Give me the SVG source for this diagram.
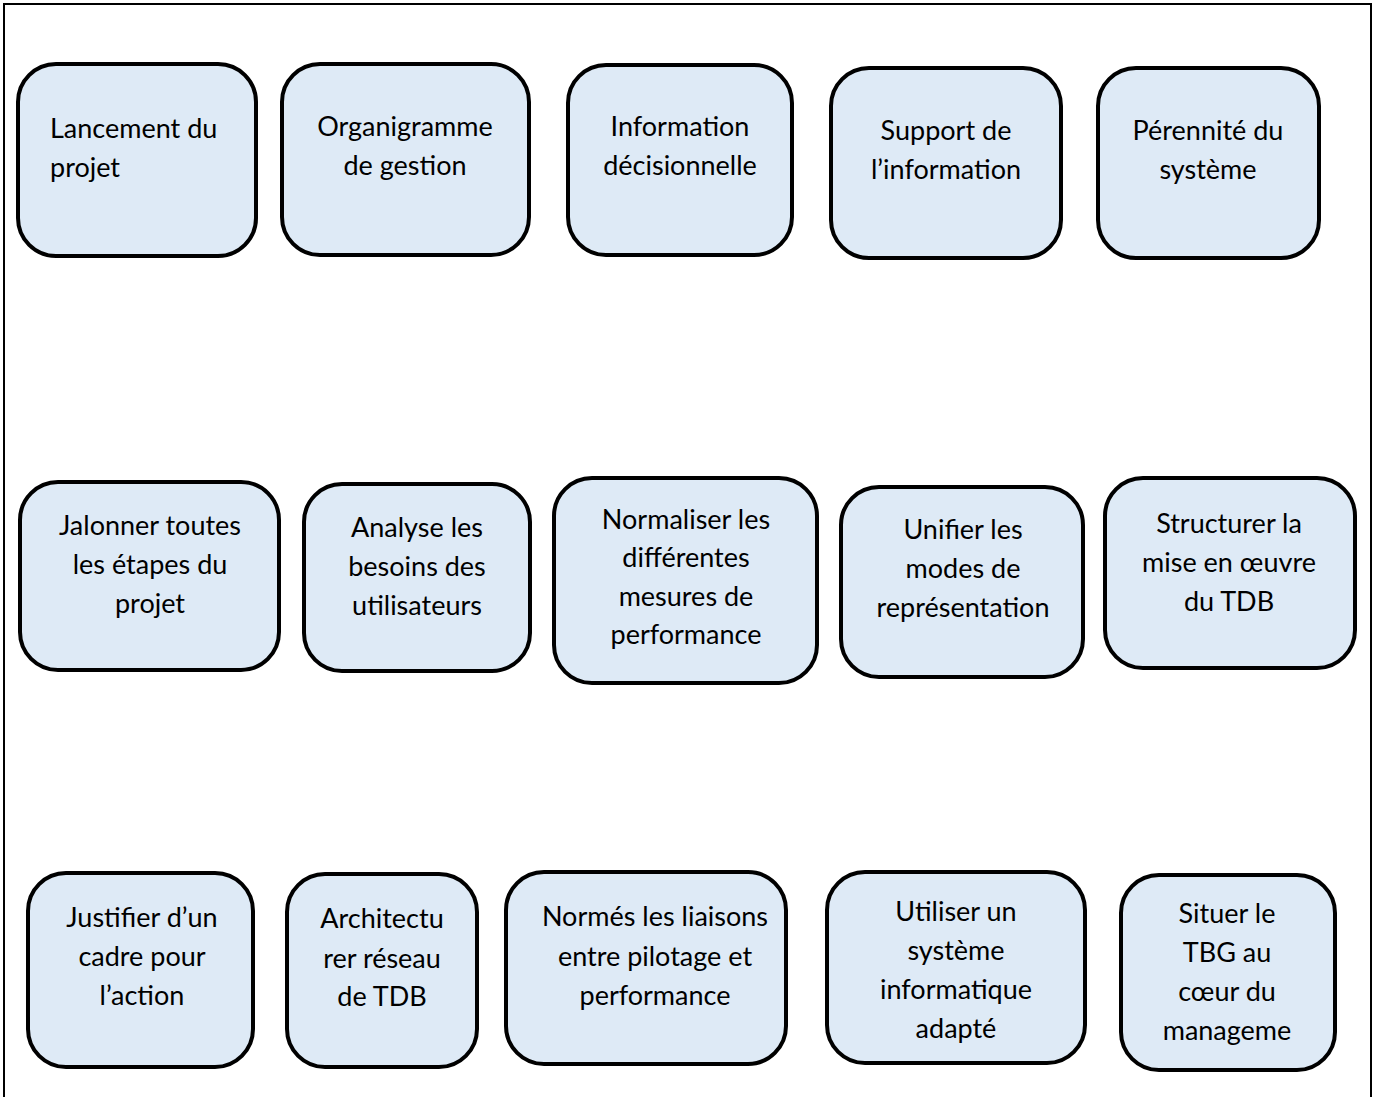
<svg xmlns="http://www.w3.org/2000/svg" width="1376" height="1097" viewBox="0 0 1376 1097">
  <style>
    .box rect { fill: #DEEAF6; stroke: #000; stroke-width: 4; }
    .box text { font-family: Lato, "Liberation Sans", sans-serif; font-size: 27px; fill: #000; text-anchor: middle; }
    .box text.left { text-anchor: start; }
    .frame { fill: none; stroke: #000; stroke-width: 2; }
  </style>
  <rect width="1376" height="1097" fill="#fff"/>
  <path class="frame" d="M4,1100 V4 H1371 V1100"/>

  <g id="connectors"/>

  <!-- row 1 -->
  <g id="n1" class="box">
    <rect x="18" y="64" width="238" height="192" rx="38"/>
    <text class="left" x="50" y="138">Lancement du</text>
    <text class="left" x="50" y="177">projet</text>
  </g>
  <g id="n2" class="box">
    <rect x="282" y="64" width="247" height="191" rx="38"/>
    <text x="405" y="136">Organigramme</text>
    <text x="405" y="175">de gestion</text>
  </g>
  <g id="n3" class="box">
    <rect x="568" y="65" width="224" height="190" rx="38"/>
    <text x="680" y="136">Information</text>
    <text x="680" y="175">décisionnelle</text>
  </g>
  <g id="n4" class="box">
    <rect x="831" y="68" width="230" height="190" rx="38"/>
    <text x="946" y="140">Support de</text>
    <text x="946" y="179">l’information</text>
  </g>
  <g id="n5" class="box">
    <rect x="1098" y="68" width="221" height="190" rx="38"/>
    <text x="1208" y="140">Pérennité du</text>
    <text x="1208" y="179">système</text>
  </g>

  <!-- row 2 -->
  <g id="n6" class="box">
    <rect x="20" y="482" width="259" height="188" rx="38"/>
    <text x="150" y="535">Jalonner toutes</text>
    <text x="150" y="574">les étapes du</text>
    <text x="150" y="613">projet</text>
  </g>
  <g id="n7" class="box">
    <rect x="304" y="484" width="226" height="187" rx="38"/>
    <text x="417" y="537">Analyse les</text>
    <text x="417" y="576">besoins des</text>
    <text x="417" y="615">utilisateurs</text>
  </g>
  <g id="n8" class="box">
    <rect x="554" y="478" width="263" height="205" rx="38"/>
    <text x="686" y="529">Normaliser les</text>
    <text x="686" y="567">différentes</text>
    <text x="686" y="606">mesures de</text>
    <text x="686" y="644">performance</text>
  </g>
  <g id="n9" class="box">
    <rect x="841" y="487" width="242" height="190" rx="38"/>
    <text x="963" y="539">Unifier les</text>
    <text x="963" y="578">modes de</text>
    <text x="963" y="617">représentation</text>
  </g>
  <g id="n10" class="box">
    <rect x="1105" y="478" width="250" height="190" rx="38"/>
    <text x="1229" y="533">Structurer la</text>
    <text x="1229" y="572">mise en œuvre</text>
    <text x="1229" y="611">du TDB</text>
  </g>

  <!-- row 3 -->
  <g id="n11" class="box">
    <rect x="28" y="873" width="225" height="194" rx="38"/>
    <text x="142" y="927">Justifier d’un</text>
    <text x="142" y="966">cadre pour</text>
    <text x="142" y="1005">l’action</text>
  </g>
  <g id="n12" class="box">
    <rect x="287" y="874" width="190" height="193" rx="38"/>
    <text x="382" y="928">Architectu</text>
    <text x="382" y="968">rer réseau</text>
    <text x="382" y="1006">de TDB</text>
  </g>
  <g id="n13" class="box">
    <rect x="506" y="872" width="280" height="192" rx="38"/>
    <text x="655" y="926">Normés les liaisons</text>
    <text x="655" y="966">entre pilotage et</text>
    <text x="655" y="1005">performance</text>
  </g>
  <g id="n14" class="box">
    <rect x="827" y="872" width="258" height="191" rx="38"/>
    <text x="956" y="921">Utiliser un</text>
    <text x="956" y="960">système</text>
    <text x="956" y="999">informatique</text>
    <text x="956" y="1038">adapté</text>
  </g>
  <g id="n15" class="box">
    <rect x="1121" y="875" width="214" height="195" rx="38"/>
    <text x="1227" y="923">Situer le</text>
    <text x="1227" y="962">TBG au</text>
    <text x="1227" y="1001">cœur du</text>
    <text x="1227" y="1040">manageme</text>
  </g>
</svg>
